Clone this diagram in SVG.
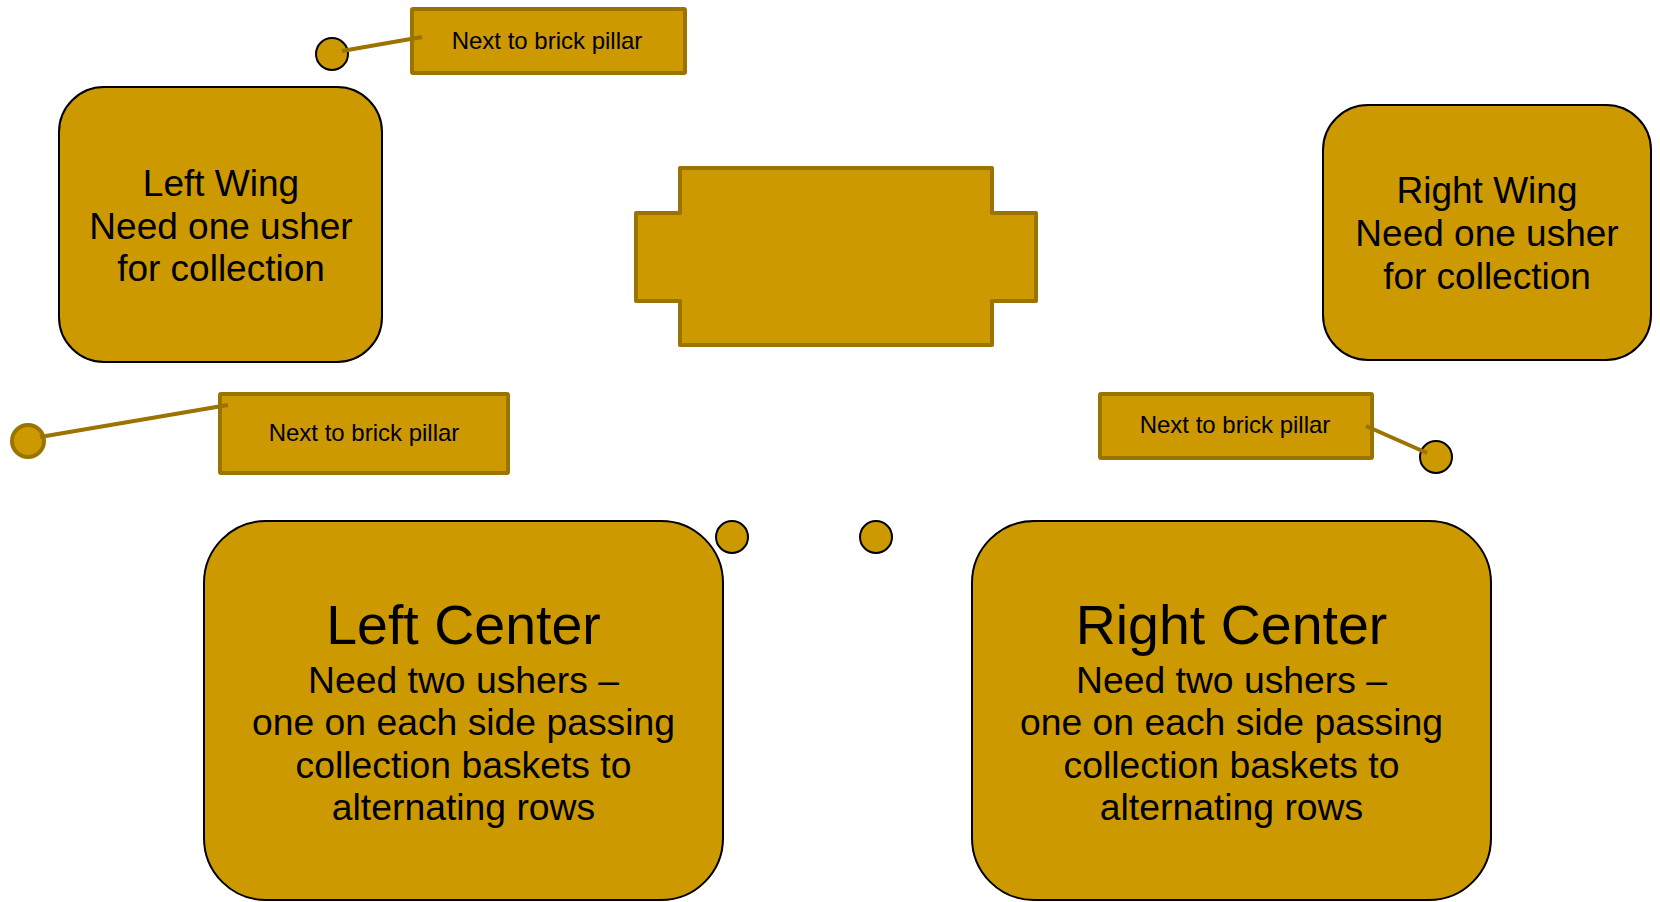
<svg xmlns="http://www.w3.org/2000/svg" width="1660" height="902" viewBox="0 0 1660 902">
<style>
.box{fill:#cc9900;stroke:#000;stroke-width:2}
.call{fill:#cc9900;stroke:#9b7300;stroke-width:4}
.dot{fill:#cc9900;stroke:#000;stroke-width:2}
.dotb{fill:#cc9900;stroke:#9b7300;stroke-width:4}
.lead{stroke:#9b7300;stroke-width:4;fill:none}
text{font-family:"Liberation Sans",Arial,sans-serif;fill:#000;text-anchor:middle}
.s{font-size:24px}
.w{font-size:37px}
.t{font-size:55.5px}
.b{font-size:37.3px}
</style>
<rect width="1660" height="902" fill="#fff"/>
<g id="left-wing">
<rect class="box" x="59" y="87" width="323" height="275" rx="45"/>
<text class="w" x="221" y="196">Left Wing</text>
<text class="w" x="221" y="238.5">Need one usher</text>
<text class="w" x="221" y="281">for collection</text>
</g>
<g id="right-wing">
<rect class="box" x="1323" y="105" width="328" height="255" rx="45"/>
<text class="w" x="1487" y="203">Right Wing</text>
<text class="w" x="1487" y="246">Need one usher</text>
<text class="w" x="1487" y="289">for collection</text>
</g>
<g id="altar">
<path class="call" stroke-linejoin="round" d="M680,168 H992 V213 H1036 V301 H992 V345 H680 V301 H636 V213 H680 Z"/>
</g>
<g id="left-center">
<rect class="box" x="204" y="521" width="519" height="379" rx="62"/>
<text class="t" x="463.5" y="644">Left Center</text>
<text class="b" x="463.5" y="692.5">Need two ushers –</text>
<text class="b" x="463.5" y="735">one on each side passing</text>
<text class="b" x="463.5" y="777.5">collection baskets to</text>
<text class="b" x="463.5" y="820">alternating rows</text>
</g>
<g id="right-center">
<rect class="box" x="972" y="521" width="519" height="379" rx="62"/>
<text class="t" x="1231.5" y="644">Right Center</text>
<text class="b" x="1231.5" y="692.5">Need two ushers –</text>
<text class="b" x="1231.5" y="735">one on each side passing</text>
<text class="b" x="1231.5" y="777.5">collection baskets to</text>
<text class="b" x="1231.5" y="820">alternating rows</text>
</g>
<g id="callout-top">
<rect class="call" x="412" y="9" width="273" height="64" rx="1"/>
<text class="s" x="547" y="49">Next to brick pillar</text>
</g>
<g id="callout-left">
<rect class="call" x="220" y="394" width="288" height="79" rx="1"/>
<text class="s" x="364" y="441">Next to brick pillar</text>
</g>
<g id="callout-right">
<rect class="call" x="1100" y="394" width="272" height="64" rx="1"/>
<text class="s" x="1235" y="433">Next to brick pillar</text>
</g>
<g id="marker-top"><circle class="dot" cx="332" cy="54" r="16"/></g>
<g id="marker-left"><circle class="dotb" cx="28" cy="441" r="16"/></g>
<g id="marker-right"><circle class="dot" cx="1436" cy="457" r="16"/></g>
<g id="marker-mid1"><circle class="dot" cx="732" cy="537" r="16"/></g>
<g id="marker-mid2"><circle class="dot" cx="876" cy="537" r="16"/></g>
<g id="connectors">
<line class="lead" x1="342" y1="51" x2="422" y2="37"/>
<line class="lead" x1="40" y1="437" x2="228" y2="405"/>
<line class="lead" x1="1366" y1="426" x2="1427" y2="453"/>
</g>
</svg>
